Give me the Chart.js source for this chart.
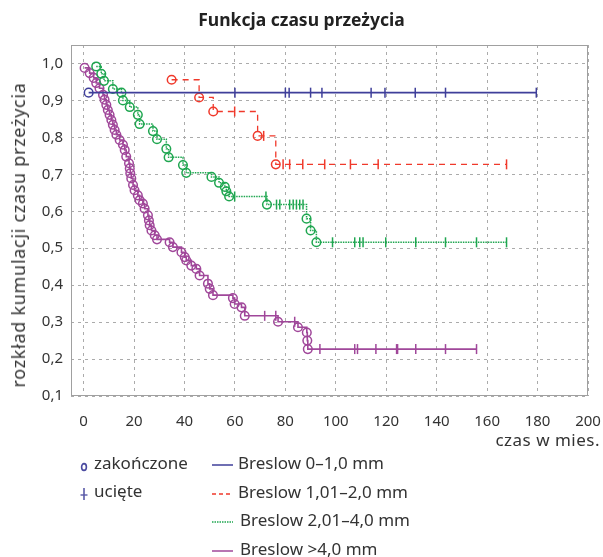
<!DOCTYPE html>
<html lang="pl">
<head>
<meta charset="UTF-8" />
<title>Funkcja czasu przeżycia</title>
<script src="https://cdn.jsdelivr.net/npm/chart.js"></script>
<style>
    body { margin: 0; background: #fff; font-family: "Noto Sans", sans-serif; color: #333; }
    .wrap { position: relative; width: 603px; height: 557px; }
    canvas { position: absolute; left: 0; top: 0; }
    .title { position: absolute; left: 0; width: 603px; top: 7px; text-align: center; font-weight: bold; font-size: 17.5px; color: #222; }
    .ytitle { position: absolute; left: 18px; top: 235px; transform: translate(-50%, -50%) rotate(-90deg); white-space: nowrap; font-size: 18px; letter-spacing: 0.7px; }
    .xtitle { position: absolute; right: 3px; top: 428px; font-size: 17px; letter-spacing: 0.5px; }
    .leg { position: absolute; font-size: 17px; white-space: nowrap; line-height: 20px; }
    .leg svg { position: absolute; }
</style>
</head>
<body>
<div class="wrap">
    <canvas id="km" width="603" height="557"></canvas>
    <div class="title">Funkcja czasu przeżycia</div>
    <div class="ytitle">rozkład kumulacji czasu przeżycia</div>
    <div class="xtitle">czas w mies.</div>

    <div class="leg" style="left:80px; top:453px;">
        <svg width="10" height="12" style="left:0; top:8px;"><ellipse cx="4" cy="6" rx="2.4" ry="3.4" fill="none" stroke="#4a4aa0" stroke-width="1.6"/></svg>
        <span style="margin-left:14px;">zakończone</span>
    </div>
    <div class="leg" style="left:80px; top:481px;">
        <svg width="10" height="14" style="left:0; top:6px;"><line x1="4" y1="1" x2="4" y2="13" stroke="#5a5aa8" stroke-width="1.6"/><line x1="0.5" y1="8" x2="7.5" y2="8" stroke="#5a5aa8" stroke-width="1.4"/></svg>
        <span style="margin-left:14px;">ucięte</span>
    </div>

    <div class="leg" style="left:212px; top:453px;">
        <svg width="22" height="4" style="left:0; top:10px;"><line x1="0" y1="2" x2="21" y2="2" stroke="#3f3f9a" stroke-width="1.5"/></svg>
        <span style="margin-left:26px;">Breslow 0–1,0 mm</span>
    </div>
    <div class="leg" style="left:212px; top:482px;">
        <svg width="22" height="4" style="left:0; top:10px;"><line x1="0" y1="2" x2="21" y2="2" stroke="#f0392b" stroke-width="1.3" stroke-dasharray="4,3"/></svg>
        <span style="margin-left:26px;">Breslow 1,01–2,0 mm</span>
    </div>
    <div class="leg" style="left:212px; top:510px;">
        <svg width="22" height="4" style="left:0; top:10px;"><line x1="0" y1="2" x2="21" y2="2" stroke="#1fa650" stroke-width="1.5" stroke-dasharray="1.5,1"/></svg>
        <span style="margin-left:28px;">Breslow 2,01–4,0 mm</span>
    </div>
    <div class="leg" style="left:212px; top:539px;">
        <svg width="22" height="4" style="left:0; top:10px;"><line x1="0" y1="2" x2="21" y2="2" stroke="#a0479a" stroke-width="1.5"/></svg>
        <span style="margin-left:28px;">Breslow &gt;4,0 mm</span>
    </div>
</div>

<script>
    // axis ticks
    const xTicks = [0, 20, 40, 60, 80, 100, 120, 140, 160, 180, 200];
    const yTicks = [0.1, 0.2, 0.3, 0.4, 0.5, 0.6, 0.7, 0.8, 0.9, 1.0];

    // 'o' = zakończone (event), '|' = ucięte (censored)
    // Breslow 0-1,0 mm
    const b1Time = [2, 60, 80, 81.5, 90, 94.5, 114, 119.5, 131.5, 143.5, 179.5];
    const b1Surv = [0.921, 0.921, 0.921, 0.921, 0.921, 0.921, 0.921, 0.921, 0.921, 0.921, 0.921];
    const b1Kind = ['o', '|', '|', '|', '|', '|', '|', '|', '|', '|', '|'];

    // Breslow 1,01-2,0 mm
    const b2Time = [34.9, 45.8, 51.4, 59.9, 69, 71.4, 76.2, 79.1, 81.7, 86.9, 95.6, 105.8, 116.8, 167.7];
    const b2Surv = [0.956, 0.908, 0.870, 0.870, 0.804, 0.804, 0.727, 0.727, 0.727, 0.727, 0.727, 0.727, 0.727, 0.727];
    const b2Kind = ['o', 'o', 'o', '|', 'o', '|', 'o', '|', '|', '|', '|', '|', '|', '|'];

    // Breslow 2,01-4,0 mm
    const b3Time = [5.0, 7.0, 8.1, 11.6, 15.0, 15.6, 18.3, 21.5, 22.2, 27.5, 29.1, 32.8, 33.7, 39.4, 40.7,
        50.7, 53.7, 56.0, 56.6, 57.7, 59.9, 72.3, 72.7, 76.5, 77.8, 81.7, 83.1, 84.4, 85.7, 87.0,
        88.4, 90.0, 92.3, 98.7, 107.5, 109.5, 110.8, 119.8, 131.7, 143.5, 155.8, 167.7];
    const b3Surv = [0.992, 0.972, 0.953, 0.931, 0.921, 0.900, 0.882, 0.861, 0.836, 0.817, 0.795, 0.769, 0.746, 0.725, 0.704,
        0.693, 0.677, 0.666, 0.654, 0.640, 0.640, 0.640, 0.618, 0.618, 0.618, 0.618, 0.618, 0.618, 0.618, 0.618,
        0.580, 0.548, 0.516, 0.516, 0.516, 0.516, 0.516, 0.516, 0.516, 0.516, 0.516, 0.516];
    const b3Kind = ['o', 'o', 'o', 'o', 'o', 'o', 'o', 'o', 'o', 'o', 'o', 'o', 'o', 'o', 'o',
        'o', 'o', 'o', 'o', 'o', '|', '|', 'o', '|', '|', '|', '|', '|', '|', '|',
        'o', 'o', 'o', '|', '|', '|', '|', '|', '|', '|', '|', '|'];

    // Breslow >4,0 mm
    const b4Time = [0.4, 2.4, 4.0, 5.0, 6.3, 7.7, 8.3, 9.0, 9.6, 10.3, 11.0, 11.6, 12.3, 13.0, 14.3, 15.6, 16.3, 16.9,
        18.0, 18.3, 18.5, 18.9, 19.6, 20.2, 21.5, 22.2, 23.5, 24.2, 25.5, 25.9, 26.2, 26.9, 28.2, 29.1,
        34.1, 35.4, 38.8, 40.1, 40.7, 42.7, 44.7, 46.0, 49.3, 50.0, 51.3, 59.2, 59.9, 62.6, 63.9,
        71.8, 76.2, 77.1, 83.7, 85.0, 88.5, 88.7, 88.9, 93.7, 107.5, 108.6, 115.9, 124.1, 124.5, 131.7, 143.5, 155.8];
    const b4Surv = [0.988, 0.974, 0.961, 0.947, 0.933, 0.915, 0.902, 0.888, 0.874, 0.861, 0.847, 0.834, 0.820, 0.807, 0.793, 0.780, 0.766, 0.748,
        0.730, 0.716, 0.703, 0.689, 0.671, 0.657, 0.643, 0.630, 0.621, 0.607, 0.589, 0.575, 0.562, 0.548, 0.535, 0.524,
        0.516, 0.503, 0.489, 0.476, 0.467, 0.453, 0.444, 0.426, 0.404, 0.390, 0.373, 0.365, 0.349, 0.340, 0.317,
        0.317, 0.317, 0.301, 0.301, 0.286, 0.272, 0.250, 0.227, 0.227, 0.227, 0.227, 0.227, 0.227, 0.227, 0.227, 0.227, 0.227];
    const b4Kind = ['o', 'o', 'o', 'o', 'o', 'o', 'o', 'o', 'o', 'o', 'o', 'o', 'o', 'o', 'o', 'o', 'o', 'o',
        'o', 'o', 'o', 'o', 'o', 'o', 'o', 'o', 'o', 'o', 'o', 'o', 'o', 'o', 'o', 'o',
        'o', 'o', 'o', 'o', 'o', 'o', 'o', 'o', 'o', 'o', 'o', 'o', 'o', 'o', 'o',
        '|', '|', 'o', '|', 'o', 'o', 'o', 'o', '|', '|', '|', '|', '|', '|', '|', '|', '|'];

    function kmSet(label, times, surv, kind, color, width, dash) {
        return {
            label: label,
            data: times.map((t, i) => ({ x: t, y: surv[i] })),
            borderColor: color,
            backgroundColor: 'rgba(0,0,0,0)',
            borderWidth: width,
            borderDash: dash,
            stepped: 'before',
            fill: false,
            pointStyle: c => kind[c.dataIndex] === 'o' ? 'circle' : 'line',
            rotation: c => kind[c.dataIndex] === 'o' ? 0 : 90,
            pointRadius: c => kind[c.dataIndex] === 'o' ? 4.3 : 5,
            pointBorderWidth: 1.5,
            pointBorderColor: color,
            pointBackgroundColor: 'rgba(0,0,0,0)'
        };
    }

    // light frame round the plot area
    const frame = {
        id: 'frame',
        beforeDatasetsDraw(chart) {
            const a = chart.chartArea, ctx = chart.ctx;
            ctx.save();
            ctx.strokeStyle = '#a0a0a0';
            ctx.lineWidth = 1;
            ctx.strokeRect(a.left + 0.5, a.top + 0.5, a.right - a.left - 1, a.bottom - a.top - 1);
            ctx.restore();
        }
    };

    const tickFont = { family: 'Noto Sans', size: 15 };

    new Chart(document.getElementById('km'), {
        type: 'line',
        data: {
            datasets: [
                kmSet('Breslow 0–1,0 mm', b1Time, b1Surv, b1Kind, '#3f3f9a', 1.8, []),
                kmSet('Breslow 1,01–2,0 mm', b2Time, b2Surv, b2Kind, '#f0392b', 1.3, [6, 5]),
                kmSet('Breslow 2,01–4,0 mm', b3Time, b3Surv, b3Kind, '#1fa650', 1.5, [1.5, 1]),
                kmSet('Breslow >4,0 mm', b4Time, b4Surv, b4Kind, '#a0479a', 1.6, [])
            ]
        },
        options: {
            responsive: false,
            animation: false,
            layout: { padding: { left: 0, top: 45, right: 15, bottom: 121 } },
            plugins: { legend: { display: false }, tooltip: { enabled: false } },
            scales: {
                x: {
                    type: 'linear',
                    min: -5,
                    max: 200,
                    afterBuildTicks: s => { s.ticks = xTicks.map(v => ({ value: v })); },
                    afterFit: s => { s.height = 40; s.paddingLeft = 0; s.paddingRight = 0; },
                    grid: { color: '#ababab', drawTicks: false },
                    border: { display: false, dash: [3, 4] },
                    ticks: { font: tickFont, color: '#333', padding: 17, maxRotation: 0, autoSkip: false }
                },
                y: {
                    min: 0.1,
                    max: 1.05,
                    afterBuildTicks: s => { s.ticks = yTicks.map(v => ({ value: v })); },
                    afterFit: s => { s.width = 71; s.paddingTop = 0; s.paddingBottom = 0; },
                    grid: { color: '#ababab', drawTicks: false },
                    border: { display: false, dash: [3, 4] },
                    ticks: {
                        font: tickFont, color: '#333', padding: 8,
                        callback: v => v.toFixed(1).replace('.', ',')
                    }
                }
            }
        },
        plugins: [frame]
    });
</script>
</body>
</html>
